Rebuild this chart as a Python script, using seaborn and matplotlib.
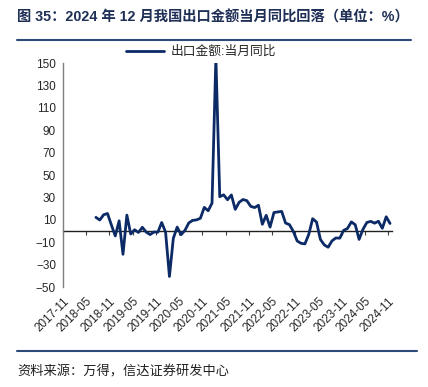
import matplotlib
matplotlib.use("Agg")
import matplotlib.pyplot as plt
from matplotlib.lines import Line2D
import seaborn as sns
import numpy as np
import pandas as pd

# monthly categories 2017-11 .. 2024-11, values start 2018-07
months = pd.period_range("2017-11", "2024-11", freq="M").strftime("%Y-%m").tolist()
export_yoy = [
    # 2018-07 .. 2018-12
    12.2, 9.8, 14.5, 15.6, 5.4, -4.4,
    # 2019
    9.1, -20.8, 14.2, -2.7, 1.1, -1.3, 3.3, -1.0, -3.2, -0.9, -1.1, 7.6,
    # 2020
    -1.0, -40.6, -6.6, 3.5, -3.3, 0.5, 7.2, 9.5, 9.9, 11.4, 21.1, 18.1,
    # 2021
    24.9, 154.9, 30.6, 32.3, 27.9, 32.2, 19.3, 25.6, 28.1, 27.1, 22.0, 20.9,
    # 2022
    23.0, 6.0, 14.0, 3.5, 16.5, 17.0, 17.5, 7.1, 5.7, -0.3, -8.9, -11.0,
    # 2023
    -11.5, -3.0, 11.0, 8.0, -7.5, -12.4, -14.5, -8.8, -6.2, -6.4, 0.5, 2.3,
    # 2024-01 .. 2024-11
    8.1, 5.6, -7.5, 1.5, 7.6, 8.6, 7.0, 8.7, 2.4, 12.7, 6.7,
]
series_name = "出口金额:当月同比"
y_ticks = list(range(-50, 151, 20))

values = [np.nan] * (len(months) - len(export_yoy)) + export_yoy
df = pd.DataFrame({"month": months, "value": values})
df["pos"] = np.arange(len(df)) + 0.5  # category centres

sns.set_style("white")
plt.rcParams["font.family"] = ["Liberation Sans", "Noto Sans CJK SC", "DejaVu Sans"]

navy = "#0b2a66"
fig = plt.figure(figsize=(4.28, 3.87), dpi=100)
ax = fig.add_axes([63 / 428, 1 - 287 / 387, (392 - 63) / 428, (287 - 63) / 387])

sns.lineplot(data=df, x="pos", y="value", ax=ax, color=navy, linewidth=2.0,
             label=series_name, legend=False)

ax.set_xlim(0, len(months))
ax.set_ylim(-50, 150)
ax.set_yticks(y_ticks)
ax.set_xlabel("")
ax.set_ylabel("")

tick_pos = np.arange(0, len(months), 6)
ax.set_xticks(tick_pos)
ax.set_xticklabels([months[i] for i in tick_pos], rotation=45, ha="right",
                   va="top", rotation_mode="anchor")
ax.tick_params(axis="x", length=0, pad=6, labelsize=8.5)
ax.tick_params(axis="y", length=3, direction="out", color="#7f7f7f",
               labelsize=8.5, pad=2)
for s in ["top", "right", "bottom"]:
    ax.spines[s].set_visible(False)
ax.spines["left"].set_color("#7f7f7f")
ax.spines["left"].set_linewidth(1.0)

# zero line with small downward tick marks
zero_frac = (0 - ax.get_ylim()[0]) / (ax.get_ylim()[1] - ax.get_ylim()[0])
sec = ax.secondary_xaxis(zero_frac)
sec.set_xticks(tick_pos)
sec.tick_params(direction="out", length=3, labelbottom=False, color="#404040")
sec.spines["bottom"].set_color("#202020")
sec.spines["bottom"].set_linewidth(1.0)

handle = Line2D([], [], color=navy, linewidth=2.0)
fig.legend([handle], [series_name], loc="center", bbox_to_anchor=(201 / 428, 1 - 52 / 387),
           frameon=False, fontsize=9.2, handlelength=3.0, handletextpad=0.5)

fig.text(17 / 428, 1 - 17 / 387, "图 35：2024 年 12 月我国出口金额当月同比回落（单位：%）",
         fontsize=10.3, fontweight="bold", color="#1f2f55", va="center", ha="left")
fig.add_artist(Line2D([17 / 428, 411 / 428], [1 - 40 / 387] * 2, color="#2f4a7a", linewidth=1.5))
fig.add_artist(Line2D([17 / 428, 417 / 428], [1 - 351 / 387] * 2, color="#2f4a7a", linewidth=1.5))
fig.text(17 / 428, 1 - 372 / 387, "资料来源：万得，信达证券研发中心",
         fontsize=9.5, style="italic", color="#222222", va="center", ha="left")

fig.savefig("out.png", dpi=100)
